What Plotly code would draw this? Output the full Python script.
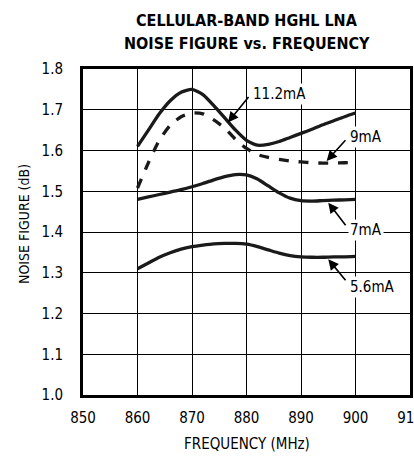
import plotly.graph_objects as go

freq = [860, 862, 864, 866, 868, 870, 872, 874, 876, 878, 880,
        882, 884, 886, 888, 890, 892, 894, 896, 898, 900]

nf_11_2mA = [1.610, 1.650, 1.690, 1.722, 1.743, 1.750, 1.737, 1.710, 1.680, 1.650, 1.625,
             1.613, 1.615, 1.622, 1.632, 1.642, 1.652, 1.663, 1.673, 1.683, 1.692]
nf_9mA = [1.508, 1.570, 1.625, 1.662, 1.683, 1.692, 1.690, 1.675, 1.655, 1.627, 1.605,
          1.590, 1.583, 1.578, 1.574, 1.572, 1.570, 1.569, 1.569, 1.570, 1.571]
nf_7mA = [1.480, 1.486, 1.492, 1.498, 1.504, 1.511, 1.519, 1.528, 1.536, 1.541, 1.540,
          1.530, 1.513, 1.496, 1.483, 1.477, 1.476, 1.477, 1.478, 1.479, 1.480]
nf_5_6mA = [1.310, 1.324, 1.338, 1.349, 1.358, 1.364, 1.368, 1.371, 1.372, 1.372, 1.370,
            1.364, 1.356, 1.348, 1.342, 1.339, 1.338, 1.338, 1.339, 1.339, 1.340]

labels = ["11.2mA", "9mA", "7mA", "5.6mA"]
# arrow tip (x, y), arrow tail (x, y), label anchor (x, y)
arrow_tips = [(876.6, 1.669), (894.7, 1.574), (895.0, 1.472), (895.0, 1.333)]
arrow_tails = [(880.6, 1.735), (898.4, 1.629), (898.4, 1.413), (898.4, 1.278)]
label_pos = [(880.8, 1.738), (898.6, 1.632), (898.6, 1.405), (898.6, 1.265)]

x_ticks = [850, 860, 870, 880, 890, 900, 910]
y_ticks = [1.0, 1.1, 1.2, 1.3, 1.4, 1.5, 1.6, 1.7, 1.8]

title_lines = ["CELLULAR-BAND HGHL LNA", "NOISE FIGURE vs. FREQUENCY"]
x_title = "FREQUENCY (MHz)"
y_title = "NOISE FIGURE (dB)"

FAM = "DejaVu Sans Condensed"


def fnt(size, weight="normal"):
    return dict(family=FAM, size=size, color="black", weight=weight)


fig = go.Figure()
series = [(nf_11_2mA, "solid"), (nf_9mA, "dash"), (nf_7mA, "solid"), (nf_5_6mA, "solid")]
for (vals, dash), name in zip(series, labels):
    fig.add_trace(go.Scatter(
        x=freq, y=vals, mode="lines", name=name,
        line=dict(color="#1a1a1a", width=3.3, dash=dash, shape="spline", smoothing=0.6),
        showlegend=False, hoverinfo="skip"))

for (tx, ty), (ax, ay) in zip(arrow_tips, arrow_tails):
    fig.add_annotation(x=tx, y=ty, ax=ax, ay=ay, xref="x", yref="y", axref="x", ayref="y",
                       text="", showarrow=True, arrowhead=2, arrowsize=1.3, arrowwidth=1.6,
                       arrowcolor="black", standoff=0, startstandoff=0)

for name, (lx, ly) in zip(labels, label_pos):
    fig.add_annotation(x=lx, y=ly, xref="x", yref="y", text=name, showarrow=False,
                       xanchor="left", yanchor="middle", bgcolor="white", borderpad=1,
                       font=fnt(15))

# titles as paper-positioned annotations
for line, ypix in zip(title_lines, [19.5, 42.5]):
    fig.add_annotation(x=0.5, y=(395.5 - ypix) / 327, xref="paper", yref="paper",
                       text=f"<b>{line}</b>", showarrow=False, xanchor="center",
                       yanchor="middle", font=fnt(16, "bold"))
fig.add_annotation(x=0.5, y=(395.5 - 445) / 327, xref="paper", yref="paper",
                   text=x_title, showarrow=False, xanchor="center", yanchor="middle",
                   font=fnt(15))
fig.add_annotation(x=(24 - 83) / 327, y=(395.5 - 224) / 327, xref="paper", yref="paper",
                   text=y_title, showarrow=False, xanchor="center", yanchor="middle",
                   textangle=-90, font=fnt(14))

fig.update_layout(
    width=414, height=457,
    margin=dict(l=83, r=4, t=68.5, b=61.5),
    paper_bgcolor="white", plot_bgcolor="white",
    font=fnt(15),
    xaxis=dict(range=[850, 910], tickvals=x_ticks, ticktext=[str(v) for v in x_ticks],
               showgrid=True, gridcolor="black", gridwidth=1.3, automargin=False,
               showline=True, linecolor="black", linewidth=3, mirror=True,
               zeroline=False, ticks="", ticklabelstandoff=7,
               ticklabeloverflow="allow", tickfont=fnt(15)),
    yaxis=dict(range=[1.0, 1.8], tickvals=y_ticks, ticktext=[f"{v:.1f}" for v in y_ticks],
               showgrid=True, gridcolor="black", gridwidth=1.3, automargin=False,
               showline=True, linecolor="black", linewidth=3, mirror=True,
               zeroline=False, ticks="", ticklabelstandoff=14, tickfont=fnt(15)),
)

fig.write_html("out.html", config={"displayModeBar": False},
               post_script="document.body.style.margin='0';document.body.style.overflow='hidden';")
